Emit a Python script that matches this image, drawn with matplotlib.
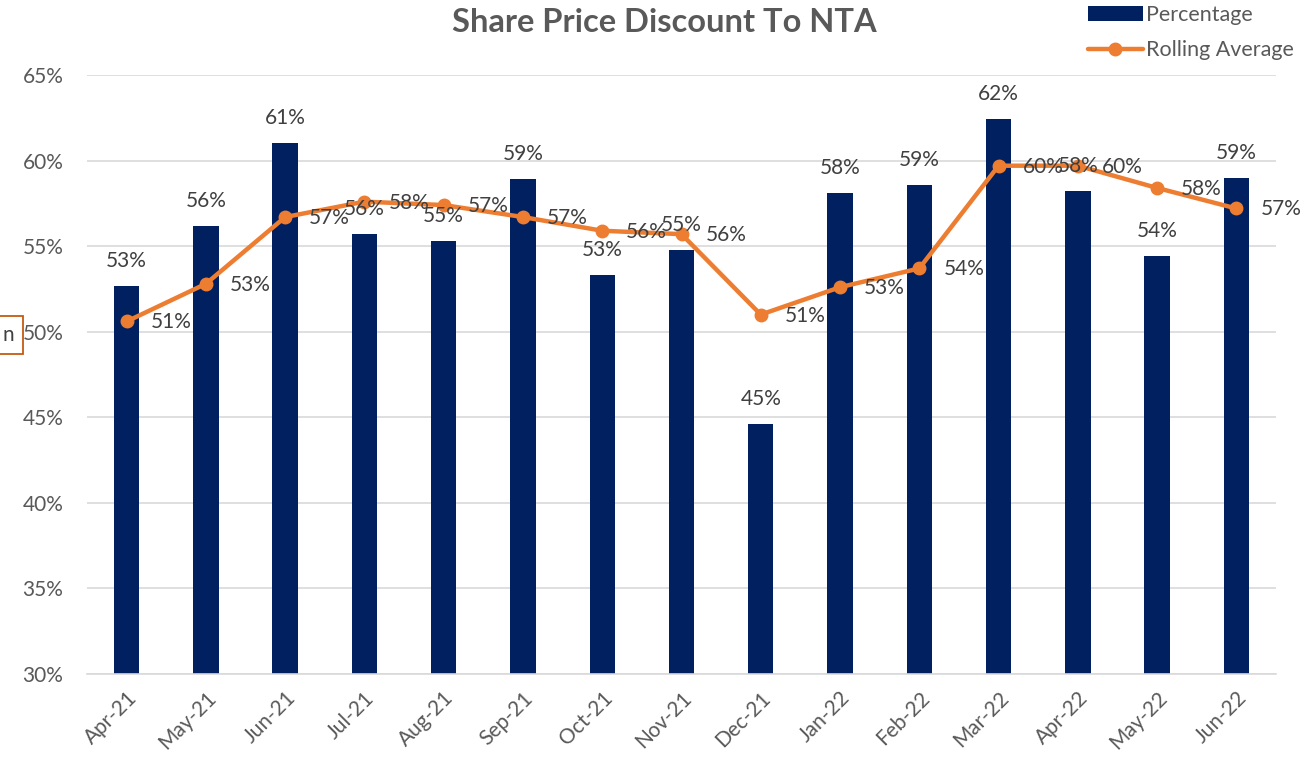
import matplotlib
matplotlib.use("Agg")
import matplotlib.pyplot as plt
from matplotlib.ticker import FuncFormatter
import numpy as np

months = ["Apr-21", "May-21", "Jun-21", "Jul-21", "Aug-21", "Sep-21", "Oct-21", "Nov-21",
          "Dec-21", "Jan-22", "Feb-22", "Mar-22", "Apr-22", "May-22", "Jun-22"]
percentage = [52.7, 56.2, 61.0, 55.7, 55.3, 58.9, 53.3, 54.8, 44.6, 58.1, 58.6, 62.4, 58.2, 54.4, 59.0]
rolling_avg = [50.6, 52.8, 56.7, 57.6, 57.4, 56.7, 55.9, 55.7, 51.0, 52.6, 53.7, 59.7, 59.7, 58.4, 57.2]
yticks = [30, 35, 40, 45, 50, 55, 60, 65]

FONT = "Lato"
GRAY = "#595959"
NAVY = "#002060"
ORANGE = "#ED7D31"
plt.rcParams["font.family"] = [FONT, "DejaVu Sans"]

W, H = 1307, 757
FS = 15
fig = plt.figure(figsize=(W / 100, H / 100), dpi=100)
ax = fig.add_axes([87 / W, 1 - 674 / H, (1276 - 87) / W, (674 - 75) / H])

x = np.arange(len(months))
bars = ax.bar(x, percentage, width=0.32, color=NAVY, zorder=2, label="Percentage")
line, = ax.plot(x, rolling_avg, color=ORANGE, lw=3.2, marker="o", ms=9, zorder=3,
                label="Rolling Average", solid_capstyle="round")

ax.set_xlim(-0.5, len(months) - 0.5)
ax.set_ylim(30, 65)
ax.set_yticks(yticks)
ax.yaxis.set_major_formatter(FuncFormatter(lambda v, p: f"{v:.0f}%"))
ax.grid(axis="y", color="#D9D9D9", lw=1.2, zorder=0)
ax.set_axisbelow(True)
for s in ["top", "right", "left"]:
    ax.spines[s].set_visible(False)
ax.spines["bottom"].set_color("#D9D9D9")
ax.spines["bottom"].set_linewidth(1.2)
ax.tick_params(axis="both", length=0, colors=GRAY, labelsize=FS)
ax.tick_params(axis="y", pad=17)
ax.set_xticks(x)
ax.set_xticklabels(months, rotation=45, ha="right", rotation_mode="anchor")
ax.tick_params(axis="x", pad=10)

for xi, v in zip(x, percentage):
    ax.annotate(f"{v:.0f}%", (xi, v), xytext=(0, 25), textcoords="offset pixels",
                ha="center", va="center", fontsize=FS, color="#404040", zorder=4)
for xi, v in zip(x, rolling_avg):
    ax.annotate(f"{v:.0f}%", (xi, v), xytext=(24, -1), textcoords="offset pixels",
                ha="left", va="center", fontsize=FS, color="#404040", zorder=4)

fig.text(664 / W, 1 - 22 / H, "Share Price Discount To NTA", ha="center", va="center",
         fontsize=23.5, fontweight="bold", color=GRAY)

leg = fig.legend(handles=[bars, line], loc="upper left", bbox_to_anchor=(1088 / W, 1 - 5 / H),
                 frameon=False, fontsize=15.5, labelcolor=GRAY, handlelength=2.55,
                 handletextpad=0.15, labelspacing=0.72, borderaxespad=0, borderpad=0)

fig.text(2 / W, 1 - 335 / H, "n", ha="left", va="center", fontsize=FS, color="#404040",
         bbox=dict(boxstyle="square,pad=0.45", facecolor="white", edgecolor="#C55A11", lw=1.3))

fig.savefig("out.png", dpi=100)
